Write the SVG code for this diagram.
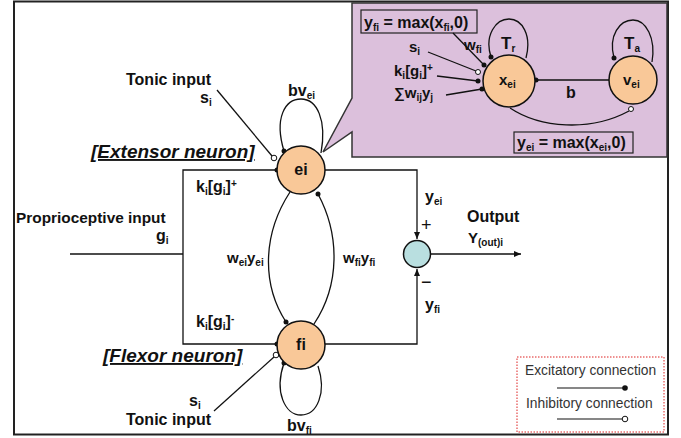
<svg xmlns="http://www.w3.org/2000/svg" width="681" height="438" viewBox="0 0 681 438">
<defs>
<style>
.t{font-family:"Liberation Sans",Arial,sans-serif;font-weight:bold;font-size:15px;fill:#111}
.s{font-size:10px}
.f16{font-size:16px}
.ln{fill:none;stroke:#111;stroke-width:1.3}
.node{fill:#f9c898;stroke:#111;stroke-width:1.5}
.dot{fill:#111}
.open{fill:#fff;stroke:#111;stroke-width:1}
.lg{font-family:"Liberation Sans",Arial,sans-serif;font-size:13.8px;fill:#333}
.hd{font-size:19px;font-style:italic;text-decoration:underline}
.pm{font-size:18px;font-weight:normal}
</style>
<marker id="ar" markerWidth="8" markerHeight="8" refX="7" refY="4" orient="auto" markerUnits="userSpaceOnUse">
<path d="M0,1 L7,4 L0,7 Z" fill="#111"/>
</marker>
</defs>
<rect x="0" y="0" width="681" height="438" fill="#fff"/>
<rect x="14" y="1.5" width="654" height="433" fill="#fff" stroke="#222" stroke-width="2"/>

<g id="callout">
<polygon points="352,3 667,3 667,157 352,157 352,132 323,152 352,98" fill="#dcc0dc" stroke="#333" stroke-width="1.5"/>
<rect x="361" y="10" width="116" height="23" fill="#dcc0dc" stroke="#222" stroke-width="1.2"/>
<text class="t f16" x="364" y="28">y<tspan class="s" dy="3">fi</tspan><tspan dy="-3"> = max(x</tspan><tspan class="s" dy="3">fi</tspan><tspan dy="-3">,0)</tspan></text>
<rect x="514" y="132" width="119" height="21" fill="#dcc0dc" stroke="#222" stroke-width="1.2"/>
<text class="t f16" x="517" y="148">y<tspan class="s" dy="3">ei</tspan><tspan dy="-3"> = max(x</tspan><tspan class="s" dy="3">ei</tspan><tspan dy="-3">,0)</tspan></text>
<g class="callout-connectors">
<path class="ln" d="M491,57 C484,35 496,19 509,19 C522,19 532,35 526,58"/>
<circle class="dot" cx="491" cy="57" r="2.5"/>
<path class="ln" d="M614,58 C608,35 620,20 633,20 C646,20 656,38 652,62"/>
<circle class="dot" cx="614" cy="58" r="2.5"/>
<line class="ln" x1="536" y1="80" x2="609" y2="80"/>
<circle class="dot" cx="536" cy="80" r="2.5"/>
<line class="ln" x1="453" y1="33" x2="484" y2="65"/>
<circle class="dot" cx="484" cy="65" r="2.5"/>
<line class="ln" x1="428" y1="52" x2="476" y2="71"/>
<circle class="open" cx="478" cy="72" r="2.5"/>
<line class="ln" x1="437" y1="76" x2="478" y2="81"/>
<circle class="dot" cx="478" cy="81" r="2.5"/>
<line class="ln" x1="446" y1="95" x2="482" y2="89"/>
<circle class="dot" cx="482" cy="89" r="2.5"/>
<path class="ln" d="M510,108 C540,128 590,132 629,111"/>
<circle class="open" cx="631" cy="109" r="2.5"/>
</g>
<g id="xei"><circle class="node" cx="509" cy="81" r="26"/>
<text class="t" x="499" y="85">x<tspan class="s" dy="3">ei</tspan></text></g>
<g id="vei"><circle class="node" cx="633" cy="80" r="24"/>
<text class="t" x="623" y="85">v<tspan class="s" dy="3">ei</tspan></text></g>
<text class="t" x="464" y="50">w<tspan class="s" dy="3">fi</tspan></text>
<text class="t" x="501" y="49" style="font-size:17px">T<tspan class="s" dy="3">r</tspan></text>
<text class="t" x="624" y="49" style="font-size:17px">T<tspan class="s" dy="3">a</tspan></text>
<text class="t" x="409" y="52">s<tspan class="s" dy="3">i</tspan></text>
<text class="t" x="394" y="76">k<tspan class="s" dy="3">i</tspan><tspan dy="-3">[g</tspan><tspan class="s" dy="3">i</tspan><tspan dy="-3">]</tspan><tspan class="s" dy="-5">+</tspan></text>
<text class="t" x="394" y="98">∑w<tspan class="s" dy="3">ij</tspan><tspan dy="-3">y</tspan><tspan class="s" dy="3">j</tspan></text>
<text class="t f16" x="566" y="98">b</text>
</g>

<g id="connectors">
<line class="ln" x1="70" y1="254" x2="183" y2="254"/>
<polyline class="ln" points="277,170 183,170 183,344 277,344"/>
<circle class="dot" cx="277" cy="170" r="2.5"/>
<circle class="dot" cx="277" cy="344" r="2.5"/>
<line class="ln" x1="217" y1="90" x2="272" y2="156"/>
<circle class="open" cx="274" cy="158" r="2.8"/>
<path class="ln" d="M284,151 C274,118 285,99 301,99 C317,99 327,120 321,153"/>
<circle class="dot" cx="284" cy="151" r="2.5"/>
<path class="ln" d="M325,170 H417 V239" marker-end="url(#ar)"/>
<path class="ln" d="M325,344 H417 V269" marker-end="url(#ar)"/>
<path class="ln" d="M431,254 H521" marker-end="url(#ar)"/>
<path class="ln" d="M290,192 C262,235 262,285 286,322"/>
<circle class="dot" cx="286" cy="322" r="2.5"/>
<path class="ln" d="M314,324 C340,285 340,235 318,194"/>
<circle class="dot" cx="318" cy="194" r="2.5"/>
<line class="ln" x1="214" y1="411" x2="274" y2="357"/>
<circle class="open" cx="276" cy="355" r="2.8"/>
<path class="ln" d="M284,363 C274,392 285,415 301,415 C317,415 327,393 318,366"/>
<circle class="dot" cx="284" cy="363" r="2.5"/>
</g>

<g id="ei"><circle class="node" cx="301" cy="170" r="24"/>
<text class="t f16" x="301" y="175" text-anchor="middle">ei</text></g>
<g id="fi"><circle class="node" cx="301" cy="345" r="24"/>
<text class="t f16" x="301" y="350" text-anchor="middle">fi</text></g>
<g id="sum"><circle cx="417" cy="254" r="13.5" fill="#b9dfe0" stroke="#111" stroke-width="1.5"/></g>

<g id="labels">
<text class="t f16" x="126" y="85">Tonic input</text>
<text class="t f16" x="200" y="103">s<tspan class="s" dy="3">i</tspan></text>
<text class="t f16" x="288" y="96">bv<tspan class="s" dy="3">ei</tspan></text>
<text class="t hd" x="91" y="158">[Extensor neuron]</text>
<text class="t f16" x="196" y="192">k<tspan class="s" dy="3">i</tspan><tspan dy="-3">[g</tspan><tspan class="s" dy="3">i</tspan><tspan dy="-3">]</tspan><tspan class="s" dy="-5">+</tspan></text>
<text class="t" x="16" y="223" style="font-size:15.4px">Proprioceptive input</text>
<text class="t f16" x="156" y="241">g<tspan class="s" dy="3">i</tspan></text>
<text class="t" x="227" y="263">w<tspan class="s" dy="3">ei</tspan><tspan dy="-3">y</tspan><tspan class="s" dy="3">ei</tspan></text>
<text class="t" x="343" y="263">w<tspan class="s" dy="3">fi</tspan><tspan dy="-3">y</tspan><tspan class="s" dy="3">fi</tspan></text>
<text class="t f16" x="425" y="202">y<tspan class="s" dy="3">ei</tspan></text>
<text class="t pm" x="421" y="231">+</text>
<text class="t pm" x="421" y="288">−</text>
<text class="t f16" x="425" y="310">y<tspan class="s" dy="3">fi</tspan></text>
<text class="t f16" x="467" y="222">Output</text>
<text class="t" x="468" y="243">Y<tspan class="s" dy="3">(out)i</tspan></text>
<text class="t f16" x="196" y="327">k<tspan class="s" dy="3">i</tspan><tspan dy="-3">[g</tspan><tspan class="s" dy="3">i</tspan><tspan dy="-3">]</tspan><tspan class="s" dy="-5">-</tspan></text>
<text class="t hd" x="103" y="362">[Flexor neuron]</text>
<text class="t f16" x="189" y="406">s<tspan class="s" dy="3">i</tspan></text>
<text class="t f16" x="126" y="425">Tonic input</text>
<text class="t f16" x="287" y="431">bv<tspan class="s" dy="3">fi</tspan></text>
</g>

<g id="legend">
<rect x="517" y="357" width="147" height="75" fill="#fff" stroke="#d22" stroke-width="1" stroke-dasharray="1.5,1.5"/>
<text class="lg" x="525" y="375">Excitatory connection</text>
<line x1="557" y1="388" x2="625" y2="388" stroke="#111" stroke-width="1.2"/>
<circle class="dot" cx="625" cy="388" r="2.8"/>
<text class="lg" x="526" y="408">Inhibitory connection</text>
<line x1="557" y1="419" x2="623" y2="419" stroke="#111" stroke-width="1.2"/>
<circle class="open" cx="625" cy="419" r="2.8"/>
</g>
</svg>
